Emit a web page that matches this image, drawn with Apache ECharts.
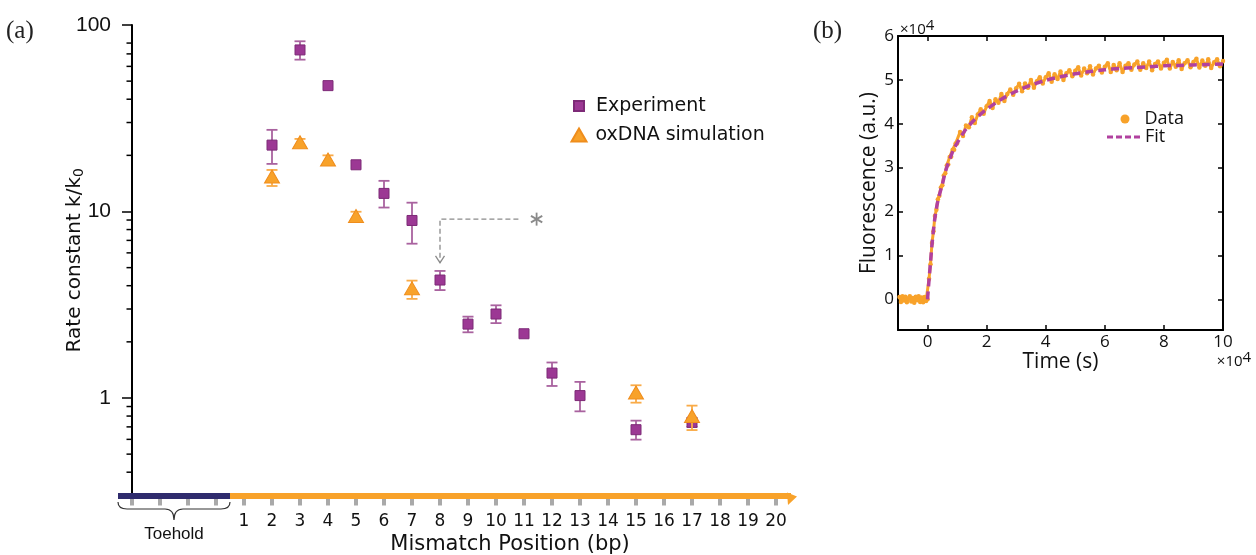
<!DOCTYPE html>
<html>
<head>
<meta charset="utf-8">
<script src="https://cdn.jsdelivr.net/npm/echarts@6/dist/echarts.min.js"></script>
<style>
  html, body { margin: 0; padding: 0; background: #ffffff; }
  #chart { width: 1256px; height: 555px; }
</style>
</head>
<body>
<div id="chart"></div>
<script>
// ---------- Panel (a): rate constant vs. mismatch position ----------
const toeholdPositions = [-3, -2, -1, 0];
const mismatchPositions = [1, 2, 3, 4, 5, 6, 7, 8, 9, 10, 11, 12, 13, 14, 15, 16, 17, 18, 19, 20];
const strandEnd = 20.75;            // arrow tip of the invading strand
const rateMin = 0.3, rateMax = 100;
const yMajorTicks = [1, 10, 100];
const yMinorTicks = [0.4, 0.5, 0.6, 0.7, 0.8, 0.9, 2, 3, 4, 5, 6, 7, 8, 9, 20, 30, 40, 50, 60, 70, 80];

// Experiment (mean, lower, upper); null = no error bar drawn
const expPositions = [2, 3, 4, 5, 6, 7, 8, 9, 10, 11, 12, 13, 15, 17];
const expValues    = [22.7, 73.5, 47.3, 17.8, 12.5, 8.95, 4.29, 2.49, 2.82, 2.21, 1.36, 1.03, 0.676, 0.74];
const expLow       = [18.0, 65.2, null, null, 10.5, 6.72, 3.79, 2.25, 2.52, null, 1.16, 0.848, 0.598, 0.70];
const expHigh      = [27.4, 81.8, null, null, 14.6, 11.15, 4.80, 2.73, 3.14, null, 1.55, 1.22, 0.756, 0.78];

// oxDNA simulation
const simPositions = [2, 3, 4, 5, 7, 15, 17];
const simValues    = [15.4, 23.5, 19.0, 9.45, 3.87, 1.07, 0.80];
const simLow       = [13.7, 22.2, 17.8, 8.93, 3.40, 0.944, 0.673];
const simHigh      = [16.7, 24.5, 20.0, 9.97, 4.26, 1.17, 0.91];

// annotation: bend at position 8, pointing down to the experiment point
const noteCorner = [8, 9.1];
const noteLineEnd = 10.8;
const noteArrowTip = 5.3;
const noteStarPos = 11.45;

// ---------- Panel (b): fluorescence trace (x10^4 units) ----------
const timeTicks = [0, 2, 4, 6, 8, 10];
const fluorTicks = [0, 1, 2, 3, 4, 5, 6];
const traceTimes = [
  -0.95, -0.9, -0.85, -0.8, -0.75, -0.7, -0.65, -0.6, -0.55, -0.5, -0.45, -0.4, -0.35, -0.3, -0.25, -0.2, -0.15, -0.1, -0.05, 0,
  0.05, 0.1, 0.15, 0.2, 0.25, 0.3, 0.35, 0.4, 0.45, 0.5, 0.55, 0.6, 0.65, 0.7, 0.75, 0.8, 0.85, 0.9, 0.95, 1.0,
  1.1, 1.2, 1.3, 1.4, 1.5, 1.6, 1.7, 1.8, 1.9, 2.0, 2.1, 2.2, 2.3, 2.4, 2.5, 2.6, 2.7, 2.8, 2.9, 3.0,
  3.1, 3.2, 3.3, 3.4, 3.5, 3.6, 3.7, 3.8, 3.9, 4.0, 4.1, 4.2, 4.3, 4.4, 4.5, 4.6, 4.7, 4.8, 4.9, 5.0,
  5.1, 5.2, 5.3, 5.4, 5.5, 5.6, 5.7, 5.8, 5.9, 6.0, 6.1, 6.2, 6.3, 6.4, 6.5, 6.6, 6.7, 6.8, 6.9, 7.0,
  7.1, 7.2, 7.3, 7.4, 7.5, 7.6, 7.7, 7.8, 7.9, 8.0, 8.1, 8.2, 8.3, 8.4, 8.5, 8.6, 8.7, 8.8, 8.9, 9.0,
  9.1, 9.2, 9.3, 9.4, 9.5, 9.6, 9.7, 9.8, 9.9, 10.0
];
const traceValues = [
  0.05, -0.06, 0.07, -0.03, 0.06, -0.07, 0.02, 0.07, -0.05, 0.03, -0.08, 0.06, -0.02, 0.07, -0.06, 0.04, -0.07, 0.05, -0.04, 0.0,
  0.47, 0.80, 1.28, 1.55, 1.90, 2.04, 2.28, 2.36, 2.55, 2.60, 2.82, 2.87, 3.05, 3.07, 3.24, 3.25, 3.41, 3.41, 3.55, 3.55,
  3.81, 3.72, 3.96, 3.92, 4.15, 4.02, 4.21, 4.33, 4.23, 4.40, 4.52, 4.36, 4.56, 4.48, 4.68, 4.52, 4.68, 4.78, 4.66, 4.81,
  4.91, 4.74, 4.92, 4.82, 5.00, 4.82, 4.97, 5.06, 4.92, 5.06, 5.15, 4.96, 5.13, 5.02, 5.19, 5.00, 5.15, 5.22, 5.08, 5.21,
  5.29, 5.10, 5.26, 5.15, 5.31, 5.12, 5.26, 5.32, 5.17, 5.30, 5.38, 5.18, 5.34, 5.22, 5.38, 5.18, 5.32, 5.38, 5.23, 5.35,
  5.42, 5.23, 5.38, 5.27, 5.42, 5.22, 5.36, 5.42, 5.26, 5.39, 5.46, 5.26, 5.41, 5.30, 5.45, 5.25, 5.38, 5.45, 5.29, 5.41,
  5.48, 5.28, 5.44, 5.32, 5.47, 5.27, 5.40, 5.47, 5.31, 5.43
];
const fitTimes  = [0, 0.05, 0.1, 0.15, 0.2, 0.25, 0.3, 0.35, 0.4, 0.5, 0.6, 0.7, 0.8, 0.9, 1.0, 1.25, 1.5, 1.75, 2.0, 2.5,
                   3.0, 3.5, 4.0, 4.5, 5.0, 5.5, 6.0, 6.5, 7.0, 7.5, 8.0, 8.5, 9.0, 9.5, 10.0];
const fitValues = [0, 0.44, 0.84, 1.24, 1.58, 1.86, 2.07, 2.24, 2.38, 2.62, 2.9, 3.1, 3.28, 3.44, 3.56, 3.83, 4.03, 4.19, 4.33, 4.56,
                   4.74, 4.88, 4.99, 5.07, 5.14, 5.19, 5.23, 5.26, 5.28, 5.30, 5.32, 5.33, 5.34, 5.35, 5.36];

// ---------- colours & fonts ----------
const PURPLE = '#9c3894', PURPLE_EDGE = '#7d2a77', PURPLE_ERR = '#a9629f';
const ORANGE = '#f8a22a', ORANGE_EDGE = '#ef8d1c', ORANGE_ERR = '#f9ab48';
const FIT_PURPLE = '#b1419f';
const NAVY = '#2f2b6d';
const FONT_A = 'DejaVu Sans';
const FONT_B = 'Open Sans';
const INK = '#111111';

// ---------- renderers ----------
function errorBarRenderer(color) {
  return function (params, api) {
    const x = api.value(0);
    const lo = api.coord([x, api.value(1)]);
    const hi = api.coord([x, api.value(2)]);
    const half = 5.5;
    const style = { stroke: color, lineWidth: 1.8, fill: null };
    return {
      type: 'group',
      children: [
        { type: 'line', shape: { x1: lo[0], y1: lo[1], x2: hi[0], y2: hi[1] }, style: style },
        { type: 'line', shape: { x1: lo[0] - half, y1: lo[1], x2: lo[0] + half, y2: lo[1] }, style: style },
        { type: 'line', shape: { x1: hi[0] - half, y1: hi[1], x2: hi[0] + half, y2: hi[1] }, style: style }
      ]
    };
  };
}

// toehold (navy) and branch-migration domain (orange arrow) along the bottom
function strandRenderer(params, api) {
  const a = api.coord([api.value(0), api.value(1)]);
  const b = api.coord([api.value(2), api.value(1)]);
  const kind = api.value(3);
  const h = 6, y = a[1] + 0.5;
  if (kind === 0) {
    return { type: 'rect', shape: { x: a[0], y: y - h / 2, width: b[0] - a[0], height: h }, style: { fill: NAVY } };
  }
  const tip = b[0];
  return {
    type: 'group',
    children: [
      { type: 'rect', shape: { x: a[0], y: y - h / 2, width: tip - a[0] - 6, height: h }, style: { fill: ORANGE } },
      { type: 'polygon', shape: { points: [[tip - 10, y - 3.5], [tip, y + 0.5], [tip - 9, y + 9]] }, style: { fill: ORANGE } }
    ]
  };
}

// curly brace with "Toehold" label under the toehold segment
function braceRenderer(params, api) {
  const a = api.coord([api.value(0), api.value(1)]);
  const b = api.coord([api.value(2), api.value(1)]);
  const x0 = a[0], x1 = b[0], m = (x0 + x1) / 2;
  const yt = a[1] + 6.5, ym = yt + 7, yb = yt + 18;
  const d = 'M' + x0 + ',' + yt +
    ' Q' + x0 + ',' + ym + ' ' + (x0 + 9) + ',' + ym +
    ' L' + (m - 9) + ',' + ym +
    ' Q' + m + ',' + ym + ' ' + m + ',' + yb +
    ' Q' + m + ',' + ym + ' ' + (m + 9) + ',' + ym +
    ' L' + (x1 - 9) + ',' + ym +
    ' Q' + x1 + ',' + ym + ' ' + x1 + ',' + yt;
  return {
    type: 'group',
    children: [
      { type: 'path', shape: { pathData: d }, style: { stroke: '#333333', lineWidth: 1.2, fill: null } },
      { type: 'text', x: m, y: a[1] + 38.5,
        style: { text: 'Toehold', align: 'center', verticalAlign: 'middle', fontSize: 17,
                 fontFamily: 'Liberation Sans', fill: INK } }
    ]
  };
}

// dashed bent arrow with asterisk
function noteRenderer(params, api) {
  const corner = api.coord([api.value(0), api.value(1)]);
  const end = api.coord([api.value(2), api.value(1)]);
  const tip = api.coord([api.value(0), api.value(3)]);
  const star = api.coord([api.value(4), api.value(1)]);
  const grey = '#8a8a8a';
  const r = 6.5;
  const spokes = [90, 30, 150].map(function (deg) {
    const t = deg * Math.PI / 180;
    return { type: 'line',
      shape: { x1: star[0] - r * Math.cos(t), y1: star[1] - r * Math.sin(t), x2: star[0] + r * Math.cos(t), y2: star[1] + r * Math.sin(t) },
      style: { stroke: grey, lineWidth: 1.8 } };
  });
  return {
    type: 'group',
    children: [
      { type: 'polyline', shape: { points: [end, corner, tip] },
        style: { stroke: grey, lineWidth: 1.3, lineDash: [5, 3], fill: null } },
      { type: 'polyline', shape: { points: [[tip[0] - 4.5, tip[1] - 7], tip, [tip[0] + 4.5, tip[1] - 7]] },
        style: { stroke: grey, lineWidth: 1.3, fill: null } }
    ].concat(spokes)
  };
}

// ---------- assembled data ----------
const expPoints = expPositions.map(function (p, i) { return [p, expValues[i]]; });
const simPoints = simPositions.map(function (p, i) { return [p, simValues[i]]; });
const expErrors = expPositions.map(function (p, i) { return [p, expLow[i], expHigh[i]]; })
  .filter(function (d) { return d[1] != null; });
const simErrors = simPositions.map(function (p, i) { return [p, simLow[i], simHigh[i]]; });
const toeholdStart = toeholdPositions[0] - 0.5;
const toeholdEnd = toeholdPositions[toeholdPositions.length - 1] + 0.5;
const strandSegments = [[toeholdStart, rateMin, toeholdEnd, 0], [toeholdEnd, rateMin, strandEnd, 1]];
const xTickValues = toeholdPositions.concat(mismatchPositions);
const minorTickData = yMinorTicks.map(function (v) { return [toeholdPositions[0], v]; });
const tracePoints = traceTimes.map(function (t, i) { return [t, traceValues[i]]; });
const fitPoints = fitTimes.map(function (t, i) { return [t, fitValues[i]]; });

const chart = echarts.init(document.getElementById('chart'));

const boxAxis = { onZero: false, lineStyle: { color: '#000', width: 2 } };
const boxTick = { inside: true, length: 5, lineStyle: { color: '#000', width: 1.5 } };
const supRich = { sup: { fontSize: 15, fontFamily: FONT_B, color: INK, padding: [0, 0, 9, 0] } };

chart.setOption({
  animation: false,
  backgroundColor: '#ffffff',
  title: [
    { text: '(a)', left: 6, top: 19, padding: 0,
      textStyle: { fontFamily: 'Liberation Serif', fontSize: 25, fontWeight: 'normal', color: '#222' } },
    { text: '(b)', left: 813, top: 19, padding: 0,
      textStyle: { fontFamily: 'Liberation Serif', fontSize: 25, fontWeight: 'normal', color: '#222' } }
  ],
  grid: [
    { left: 118, right: 459, top: 25, bottom: 59.5, outerBoundsMode: 'none' },
    { left: 898, right: 33, top: 36, bottom: 225, outerBoundsMode: 'none' }
  ],
  legend: [
    { data: [{ name: 'Experiment', icon: 'rect' }], left: 573, top: 96.5, padding: 0,
      itemWidth: 10, itemHeight: 10,
      textStyle: { fontFamily: FONT_A, fontSize: 19, color: INK, padding: [0, 0, 0, 7] } },
    { data: [{ name: 'oxDNA simulation', icon: 'triangle' }], left: 570.5, top: 125.5, padding: 0,
      itemWidth: 15, itemHeight: 13,
      textStyle: { fontFamily: FONT_A, fontSize: 19, color: INK, padding: [0, 0, 0, 4] } },
    { data: [{ name: 'Data', icon: 'circle' }], left: 1120.5, top: 110, padding: 0,
      itemWidth: 9, itemHeight: 9,
      textStyle: { fontFamily: FONT_B, fontSize: 18, color: INK, padding: [0, 0, 0, 10] } },
    { data: [{ name: 'Fit', icon: 'path://M0,0H6V3H0Z M9,0H15V3H9Z M18,0H24V3H18Z M27,0H33V3H27Z' }],
      left: 1107, top: 128, padding: 0,
      itemWidth: 33, itemHeight: 3,
      textStyle: { fontFamily: FONT_B, fontSize: 18, color: INK } }
  ],
  xAxis: [
    { gridIndex: 0, type: 'value', min: toeholdStart, max: strandEnd,
      axisLine: { show: false, onZero: false },
      axisTick: { show: true, customValues: xTickValues, length: 10, lineStyle: { color: '#a9a9a9', width: 4 } },
      axisLabel: { customValues: mismatchPositions, margin: 18, fontSize: 17, fontFamily: FONT_A, color: INK },
      splitLine: { show: false },
      name: 'Mismatch Position (bp)', nameLocation: 'middle', nameGap: 39, nameMoveOverlap: false,
      nameTextStyle: { fontSize: 21, fontFamily: FONT_A, color: INK, padding: [0, 0, 0, 105] } },
    { gridIndex: 1, type: 'value', min: -1, max: 10, position: 'bottom',
      axisLine: boxAxis, axisTick: Object.assign({ customValues: timeTicks }, boxTick),
      axisLabel: { customValues: timeTicks, margin: 4, fontSize: 17, fontFamily: FONT_B, color: INK },
      splitLine: { show: false },
      name: 'Time (s)', nameLocation: 'middle', nameGap: 22, nameMoveOverlap: false,
      nameTextStyle: { fontSize: 21, fontFamily: FONT_B, color: INK } },
    { gridIndex: 1, type: 'value', min: -1, max: 10, position: 'top',
      axisLine: boxAxis, axisTick: Object.assign({ customValues: timeTicks }, boxTick),
      axisLabel: { show: false }, splitLine: { show: false },
      name: '×10{sup|4}', nameLocation: 'start', nameGap: -2, nameMoveOverlap: false,
      nameTextStyle: { align: 'left', verticalAlign: 'middle', fontSize: 15, fontFamily: FONT_B, color: INK,
        padding: [0, 0, 12, 0], rich: supRich } }
  ],
  yAxis: [
    { gridIndex: 0, type: 'log', logBase: 10, min: rateMin, max: rateMax, position: 'left', offset: -14,
      axisLine: { show: true, onZero: false, lineStyle: { color: '#000', width: 2 } },
      axisTick: { show: true, customValues: yMajorTicks, length: 10, lineStyle: { color: '#000', width: 1.5 } },
      axisLabel: { customValues: yMajorTicks, margin: 21, fontSize: 21, fontFamily: 'Liberation Sans', color: INK },
      splitLine: { show: false },
      name: 'Rate constant k/k{sub|0}', nameLocation: 'middle', nameGap: 46, nameMoveOverlap: false,
      nameTextStyle: { fontSize: 20, fontFamily: FONT_A, color: INK,
        rich: { sub: { fontSize: 14, fontFamily: FONT_A, color: INK, padding: [9, 0, 0, 0] } } } },
    { gridIndex: 1, type: 'value', min: -0.7, max: 6, position: 'left',
      axisLine: boxAxis, axisTick: Object.assign({ customValues: fluorTicks }, boxTick),
      axisLabel: { customValues: fluorTicks, margin: 4, fontSize: 17, fontFamily: FONT_B, color: INK },
      splitLine: { show: false },
      name: 'Fluorescence (a.u.)', nameLocation: 'middle', nameGap: 18, nameMoveOverlap: false,
      nameTextStyle: { fontSize: 21, fontFamily: FONT_B, color: INK } },
    { gridIndex: 1, type: 'value', min: -0.7, max: 6, position: 'right',
      axisLine: boxAxis, axisTick: Object.assign({ customValues: fluorTicks }, boxTick),
      axisLabel: { show: false }, splitLine: { show: false },
      name: '×10{sup|4}', nameLocation: 'start', nameGap: 20, nameMoveOverlap: false,
      nameTextStyle: { align: 'center', verticalAlign: 'top', fontSize: 15, fontFamily: FONT_B, color: INK,
        padding: [0, 0, 0, 22], rich: supRich } }
  ],
  series: [
    // minor ticks of the log axis: short black dashes just left of the axis line
    { type: 'scatter', name: 'minor ticks', xAxisIndex: 0, yAxisIndex: 0, clip: false, silent: true, z: 3,
      symbol: 'rect', symbolSize: [5, 1.5], symbolOffset: [-3, 0],
      itemStyle: { color: '#000000', opacity: 1 }, data: minorTickData },
    { type: 'custom', name: 'strand', xAxisIndex: 0, yAxisIndex: 0, clip: false, silent: true, z: 3,
      renderItem: strandRenderer, encode: { x: [0, 2], y: 1 }, data: strandSegments },
    { type: 'custom', name: 'toehold brace', xAxisIndex: 0, yAxisIndex: 0, clip: false, silent: true, z: 3,
      renderItem: braceRenderer, encode: { x: [0, 2], y: 1 }, data: [[toeholdStart, rateMin, toeholdEnd]] },
    { type: 'custom', name: 'expErr', xAxisIndex: 0, yAxisIndex: 0, clip: false, silent: true, z: 4,
      renderItem: errorBarRenderer(PURPLE_ERR), encode: { x: 0, y: [1, 2] }, data: expErrors },
    { type: 'scatter', name: 'Experiment', xAxisIndex: 0, yAxisIndex: 0, z: 5,
      symbol: 'rect', symbolSize: 10,
      itemStyle: { color: PURPLE, borderColor: PURPLE_EDGE, borderWidth: 1, opacity: 1 },
      data: expPoints },
    { type: 'custom', name: 'simErr', xAxisIndex: 0, yAxisIndex: 0, clip: false, silent: true, z: 6,
      renderItem: errorBarRenderer(ORANGE_ERR), encode: { x: 0, y: [1, 2] }, data: simErrors },
    { type: 'scatter', name: 'oxDNA simulation', xAxisIndex: 0, yAxisIndex: 0, z: 7,
      symbol: 'triangle', symbolSize: [15, 13],
      itemStyle: { color: ORANGE, borderColor: ORANGE_EDGE, borderWidth: 1, opacity: 1 },
      data: simPoints },
    { type: 'custom', name: 'note', xAxisIndex: 0, yAxisIndex: 0, clip: false, silent: true, z: 4,
      renderItem: noteRenderer, encode: { x: [0, 2, 4], y: [1, 3] },
      data: [[noteCorner[0], noteCorner[1], noteLineEnd, noteArrowTip, noteStarPos]] },
    { type: 'line', name: 'Data', xAxisIndex: 1, yAxisIndex: 1, z: 3,
      symbol: 'circle', symbolSize: 4.5, showSymbol: true, showAllSymbol: true,
      lineStyle: { color: ORANGE, width: 3 }, itemStyle: { color: ORANGE },
      data: tracePoints },
    { type: 'line', name: 'Fit', xAxisIndex: 1, yAxisIndex: 1, z: 4,
      symbol: 'none', smooth: 0.3,
      lineStyle: { color: FIT_PURPLE, width: 3.5, type: [8, 5] }, itemStyle: { color: FIT_PURPLE },
      data: fitPoints }
  ]
});
</script>
</body>
</html>
